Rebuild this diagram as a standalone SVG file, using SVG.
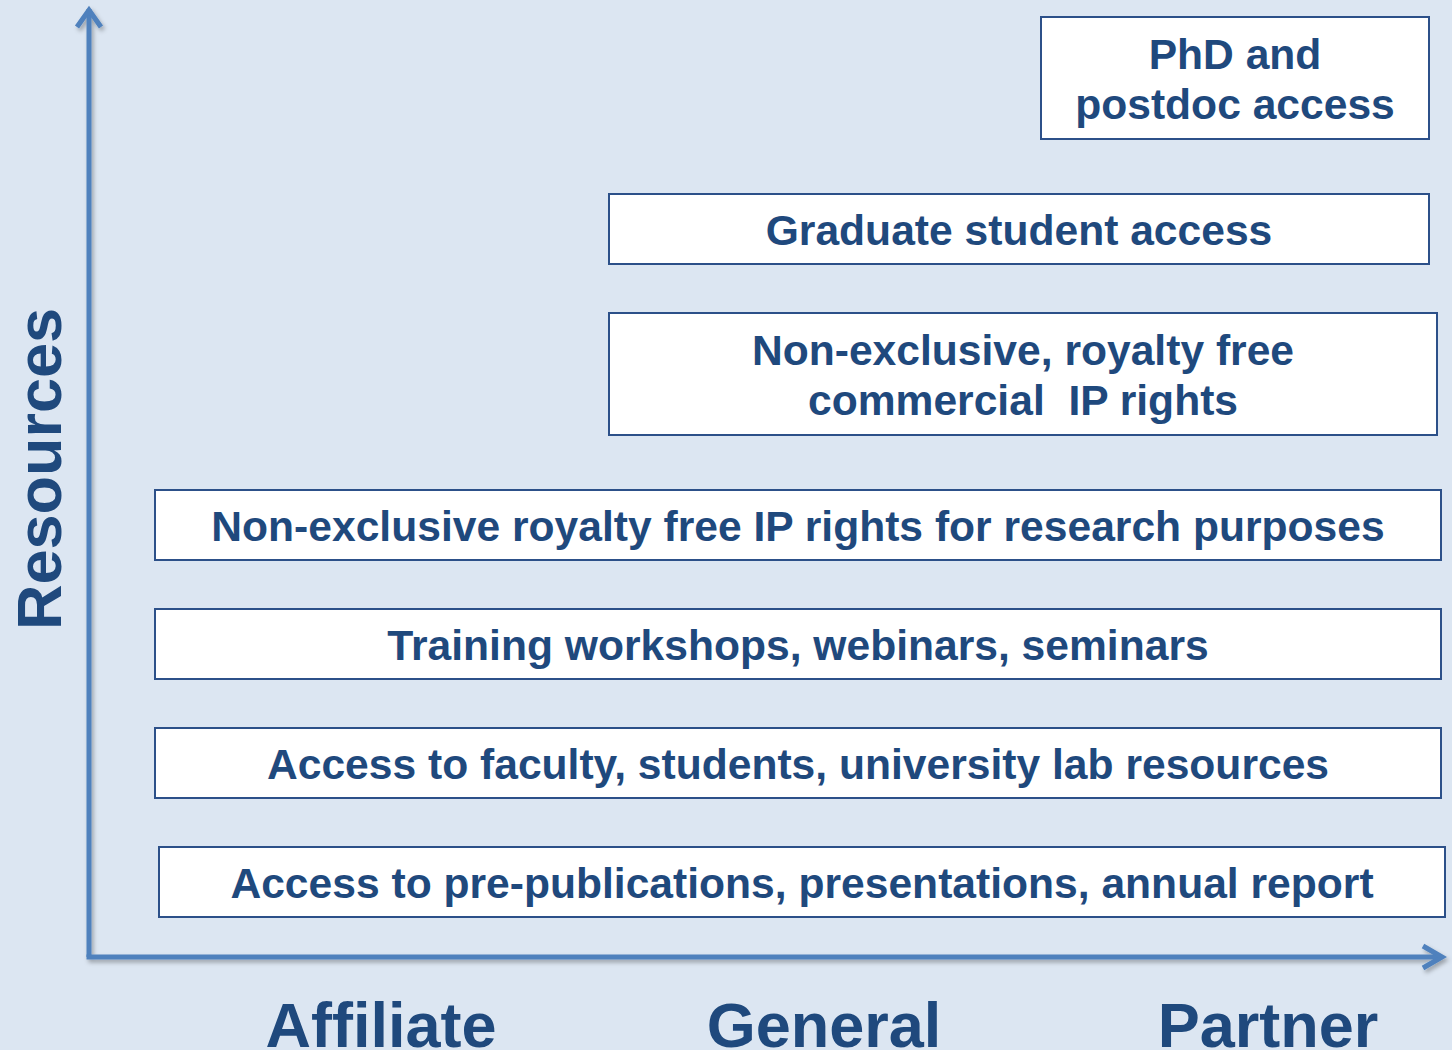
<svg xmlns="http://www.w3.org/2000/svg" width="1452" height="1050" viewBox="0 0 1452 1050">
<style>
.box{fill:#ffffff;stroke:#2c5089;stroke-width:2}
.t{font-family:"Liberation Sans",Arial,sans-serif;font-weight:bold;font-size:42.6px;fill:#1f497d;text-anchor:middle}
.big{font-family:"Liberation Sans",Arial,sans-serif;font-weight:bold;font-size:63px;fill:#1f497d;text-anchor:middle}
.ax{fill:none;stroke:#4f81bd;stroke-width:5;stroke-linecap:butt;stroke-linejoin:miter}
</style>
<defs>
<filter id="sh" x="-5%" y="-5%" width="110%" height="110%">
<feDropShadow dx="2" dy="3" stdDeviation="2" flood-color="#000" flood-opacity="0.3"/>
</filter>
</defs>
<rect x="0" y="0" width="1452" height="1050" fill="#dce6f2"/>
<g id="connectors" filter="url(#sh)">
<path class="ax" d="M89,957 L89,9"/>
<path class="ax" d="M77,27 L89,10 L101,27"/>
<path class="ax" d="M86.5,957 L1442,957"/>
<path class="ax" d="M1423,946 L1442,957 L1423,968"/>
</g>
<g id="phd">
<rect class="box" x="1041" y="17" width="388" height="122"/>
<text class="t" x="1235" y="69">PhD and</text>
<text class="t" x="1235" y="119">postdoc access</text>
</g>
<g id="graduate">
<rect class="box" x="609" y="194" width="820" height="70"/>
<text class="t" x="1019" y="245">Graduate student access</text>
</g>
<g id="commercial">
<rect class="box" x="609" y="313" width="828" height="122"/>
<text class="t" x="1023" y="365">Non-exclusive, royalty free</text>
<text class="t" x="1023" y="415" xml:space="preserve">commercial  IP rights</text>
</g>
<g id="research">
<rect class="box" x="155" y="490" width="1286" height="70"/>
<text class="t" x="798" y="541">Non-exclusive royalty free IP rights for research purposes</text>
</g>
<g id="training">
<rect class="box" x="155" y="609" width="1286" height="70"/>
<text class="t" x="798" y="660">Training workshops, webinars, seminars</text>
</g>
<g id="faculty">
<rect class="box" x="155" y="728" width="1286" height="70"/>
<text class="t" x="798" y="779">Access to faculty, students, university lab resources</text>
</g>
<g id="prepub">
<rect class="box" x="159" y="847" width="1286" height="70"/>
<text class="t" x="802" y="898">Access to pre-publications, presentations, annual report</text>
</g>
<g id="labels">
<text class="big" transform="translate(61,469) rotate(-90)">Resources</text>
<text class="big" x="381" y="1047">Affiliate</text>
<text class="big" x="824" y="1047">General</text>
<text class="big" x="1268" y="1047">Partner</text>
</g>
</svg>
